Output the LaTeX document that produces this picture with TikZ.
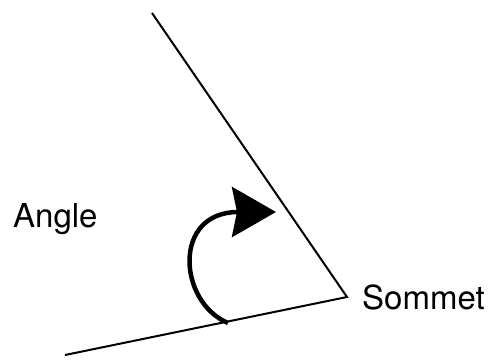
\documentclass[tikz,border=0pt]{standalone}
\usepackage{fontspec}
\setmainfont{TeX Gyre Heros}
\usetikzlibrary{arrows.meta}
\tikzset{
  ray/.style={line width=2pt},
  turn/.style={line width=4.5pt,-{Stealth[length=44pt,width=50pt,inset=5pt]}},
  lbl/.style={font=\fontsize{33}{36}\selectfont,inner sep=0pt,anchor=base west}
}
\begin{document}
\begin{tikzpicture}[x=1pt,y=-1pt]
\useasboundingbox (0,0) rectangle (493,360);
\coordinate (top) at (152,13);
\coordinate (V) at (347,297);
\coordinate (bot) at (65,355);
\coordinate (s) at (228,323);
\coordinate (e) at (276,212);
\draw[ray] (top) -- (V) -- (bot);
\draw[turn] (s) .. controls (178,302) and (172,212) .. (e);
\node[lbl] (angle) at (13,227) {Angle};
\node[lbl] (sommet) at (362,309) {Sommet};
\end{tikzpicture}
\end{document}
